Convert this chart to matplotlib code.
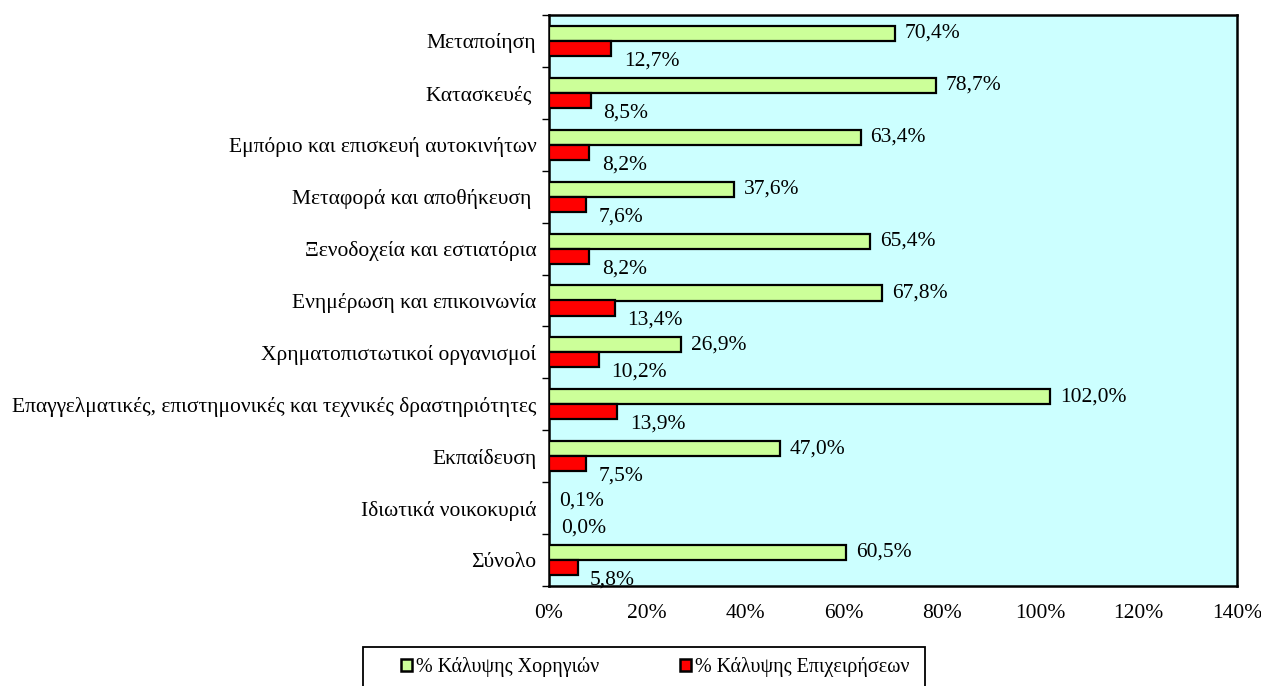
import numpy as np
import matplotlib
matplotlib.use("Agg")
import matplotlib.pyplot as plt
from matplotlib.patches import Rectangle, Patch
from matplotlib.ticker import FixedLocator, PercentFormatter

plt.rcParams["font.family"] = ["Liberation Serif", "DejaVu Serif"]

# ── data ─────────────────────────────────────────────────────────────────────
categories = [
    "Μεταποίηση",
    "Κατασκευές ",
    "Εμπόριο και επισκευή αυτοκινήτων",
    "Μεταφορά και αποθήκευση ",
    "Ξενοδοχεία και εστιατόρια",
    "Ενημέρωση και επικοινωνία",
    "Χρηματοπιστωτικοί οργανισμοί",
    "Επαγγελματικές, επιστημονικές και τεχνικές δραστηριότητες",
    "Εκπαίδευση",
    "Ιδιωτικά νοικοκυριά",
    "Σύνολο",
]
sponsorships = [70.4, 78.7, 63.4, 37.6, 65.4, 67.8, 26.9, 102.0, 47.0, 0.1, 60.5]
companies = [12.7, 8.5, 8.2, 7.6, 8.2, 13.4, 10.2, 13.9, 7.5, 0.0, 5.8]
series_names = ["% Κάλυψης Χορηγιών", "% Κάλυψης Επιχειρήσεων"]

GREEN = "#CCFF99"
RED = "#FF0000"
BG = "#CCFFFF"
FS = 15.5

# ── figure ───────────────────────────────────────────────────────────────────
fig = plt.figure(figsize=(12.61, 6.86), dpi=100)
ax = fig.add_axes([549 / 1261, 1 - 586 / 686, 688 / 1261, 571 / 686])
ax.set_facecolor(BG)

y = np.arange(len(categories))
h = 0.29
ax.barh(y - h / 2, sponsorships, height=h, color=GREEN, edgecolor="black", lw=1.6, zorder=3)
ax.barh(y + h / 2, companies, height=h, color=RED, edgecolor="black", lw=1.6, zorder=3)

def fmt(v):
    return f"{v:.1f}%".replace(".", ",")

for yi, v in zip(y, sponsorships):
    ax.annotate(fmt(v), (v, yi - h / 2), xytext=(7, 0), textcoords="offset points",
                va="center", ha="left", fontsize=FS)
for yi, v in zip(y, companies):
    ax.annotate(fmt(v), (v, yi + h / 2), xytext=(9, -9), textcoords="offset points",
                va="center", ha="left", fontsize=FS)

ax.set_xlim(0, 140)
ax.set_ylim(len(categories) - 0.5, -0.5)
ax.xaxis.set_major_locator(FixedLocator(np.arange(0, 141, 20)))
ax.xaxis.set_major_formatter(PercentFormatter(decimals=0))
ax.tick_params(axis="x", length=0, pad=13, labelsize=FS)

ax.set_yticks(y)
ax.set_yticklabels(categories, fontsize=FS)
ax.tick_params(axis="y", which="major", length=0, pad=9)
ax.yaxis.set_minor_locator(FixedLocator(np.arange(-0.5, len(categories), 1)))
ax.tick_params(axis="y", which="minor", length=5, width=1, direction="out")

for sp in ax.spines.values():
    sp.set_linewidth(1.8)
    sp.set_color("black")

# ── legend ───────────────────────────────────────────────────────────────────
fig.patches.append(Rectangle((363 / 1261, -0.05), 562 / 1261, 0.05 + 39 / 686,
                             transform=fig.transFigure, fill=False,
                             edgecolor="black", lw=1.3))
handles = [Patch(facecolor=GREEN, edgecolor="black", lw=1.8),
           Patch(facecolor=RED, edgecolor="black", lw=1.8)]
fig.legend(handles, series_names, ncol=2, loc="center",
           bbox_to_anchor=(655 / 1261, 1 - 667 / 686), frameon=False,
           fontsize=14.5, handlelength=0.55, handleheight=0.55, handletextpad=0.2,
           columnspacing=4.0)

fig.savefig("out.png", dpi=100)
